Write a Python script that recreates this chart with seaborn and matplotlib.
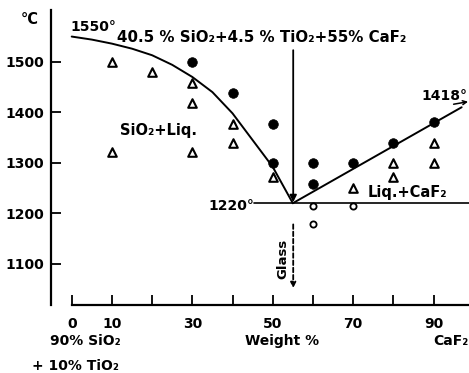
import matplotlib
matplotlib.use("Agg")
import matplotlib.pyplot as plt
import seaborn as sns
import numpy as np

# ---- data ----
tri_x = [10, 10, 20, 30, 30, 30, 40, 40, 50, 70, 80, 80, 90, 90]
tri_y = [1500, 1322, 1480, 1459, 1418, 1322, 1377, 1340, 1271, 1251, 1300, 1271, 1340, 1300]

dot_x = [30, 40, 50, 50, 60, 60, 70, 80, 90]
dot_y = [1500, 1438, 1377, 1300, 1300, 1259, 1300, 1340, 1381]

ring_x = [60, 60, 70]
ring_y = [1214, 1178, 1214]

liq_x = [0, 5, 10, 15, 20, 25, 30, 35, 40, 45, 50, 55]
liq_y = [1550, 1544, 1536, 1526, 1513, 1494, 1470, 1440, 1398, 1345, 1292, 1220]

caf_x = [55, 97]
caf_y = [1220, 1410]

eut_x = [45.4, 98.8]
eut_y = [1220, 1220]

xticks = [0, 10, 20, 30, 40, 50, 60, 70, 80, 90]
xticklabels = ["0", "10", "", "30", "", "50", "", "70", "", "90"]
yticks = [1100, 1200, 1300, 1400, 1500]
yticklabels = ["1100", "1200", "1300", "1400", "1500"]

# ---- figure ----
sns.set_style("ticks")
plt.rcParams['font.family'] = ['DejaVu Sans']
plt.rcParams['font.weight'] = 'bold'
plt.rcParams['text.color'] = 'black'
plt.rcParams['axes.labelcolor'] = 'black'
plt.rcParams['xtick.color'] = 'black'
plt.rcParams['ytick.color'] = 'black'
plt.rcParams['axes.edgecolor'] = 'black'

fig = plt.figure(figsize=(4.69, 3.73), dpi=100)
ax = fig.add_axes([51/469, 1 - 305/373, 418/469, 295/373])
ax.set_xlim(-5.15, 98.83)
ax.set_ylim(1018.4, 1602.6)

lw = 1.4
sns.lineplot(x=liq_x, y=liq_y, ax=ax, color='black', lw=lw, sort=False, estimator=None)
sns.lineplot(x=caf_x, y=caf_y, ax=ax, color='black', lw=lw, sort=False, estimator=None)
sns.lineplot(x=eut_x, y=eut_y, ax=ax, color='black', lw=1.2, sort=False, estimator=None)

sns.scatterplot(x=tri_x, y=tri_y, ax=ax, marker='^', s=38, facecolor='white',
                edgecolor='black', linewidth=1.5, zorder=5)
sns.scatterplot(x=dot_x, y=dot_y, ax=ax, marker='o', s=48, color='black',
                edgecolor='black', linewidth=0.5, zorder=5)
sns.scatterplot(x=ring_x, y=ring_y, ax=ax, marker='o', s=20, facecolor='white',
                edgecolor='black', linewidth=1.3, zorder=5)

# arrows
ax.annotate("", xy=(55.1, 1222), xytext=(55.1, 1523),
            arrowprops=dict(arrowstyle='-|>', color='black', lw=1.3,
                            mutation_scale=10, shrinkA=0, shrinkB=0))
ax.annotate("", xy=(55.1, 1052), xytext=(55.1, 1178),
            arrowprops=dict(arrowstyle='-|>', color='black', lw=1.3, ls=(0, (2.5, 1.5)),
                            mutation_scale=8, shrinkA=0, shrinkB=0))
ax.annotate("", xy=(98.6, 1421), xytext=(95.0, 1416),
            arrowprops=dict(arrowstyle='->', color='black', lw=1.1,
                            mutation_scale=7, shrinkA=0, shrinkB=0))

fs = 10
ax.text(-0.2, 1561, "1550°", fontsize=fs, fontweight='bold', va='baseline', ha='left')
ax.text(11.3, 1539, "40.5 % SiO₂+4.5 % TiO₂+55% CaF₂", fontsize=10.8,
        fontweight='bold', va='baseline', ha='left')
ax.text(12.0, 1355, "SiO₂+Liq.", fontsize=10.5, fontweight='bold', va='baseline', ha='left')
ax.text(87.1, 1424, "1418°", fontsize=fs, fontweight='bold', va='baseline', ha='left')
ax.text(73.5, 1232, "Liq.+CaF₂", fontsize=10.5, fontweight='bold', va='baseline', ha='left')
ax.text(45.4, 1207, "1220°", fontsize=fs, fontweight='bold', va='baseline', ha='right')
ax.text(52.6, 1110, "Glass", fontsize=9.5, fontweight='bold', rotation=90,
        va='center', ha='center')

# labels below the axis
ax.text(-5.5, 939, "90% SiO₂", fontsize=10, fontweight='bold', va='baseline',
        ha='left', clip_on=False)
ax.text(-10, 890, "+ 10% TiO₂", fontsize=10, fontweight='bold', va='baseline',
        ha='left', clip_on=False)
ax.text(52.4, 939, "Weight %", fontsize=10, fontweight='bold', va='baseline',
        ha='center', clip_on=False)
ax.text(89.9, 939, "CaF₂", fontsize=10, fontweight='bold', va='baseline',
        ha='left', clip_on=False)
fig.text(30/469, 1 - 20/373, "°C", fontsize=10.5, fontweight='bold', va='center', ha='center')

# axes styling
ax.set_xticks(xticks)
ax.set_xticklabels(xticklabels)
ax.set_yticks(yticks)
ax.set_yticklabels(yticklabels)
ax.tick_params(direction='in', length=7, width=1.3, labelsize=10, color='black',
               labelcolor='black')
ax.tick_params(axis='x', pad=9)
ax.tick_params(axis='y', pad=5)
for lab in ax.get_xticklabels() + ax.get_yticklabels():
    lab.set_fontweight('bold')
for s in ['top', 'right']:
    ax.spines[s].set_visible(False)
for s in ['left', 'bottom']:
    ax.spines[s].set_linewidth(1.6)
    ax.spines[s].set_color('black')
ax.spines['bottom'].set_bounds(0, 98.83)
ax.set_xlabel("")
ax.set_ylabel("")
ax.patch.set_facecolor('white')

fig.savefig("out.png", dpi=100, facecolor='white')
